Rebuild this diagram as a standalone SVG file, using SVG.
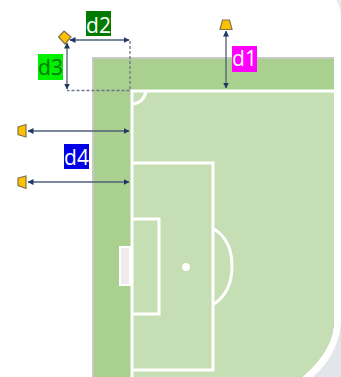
<svg xmlns="http://www.w3.org/2000/svg" width="341" height="377" viewBox="0 0 341 377">
<style>
.ln{fill:none;stroke:#fff;stroke-width:3}
.cam{fill:#ffc000;stroke:#7f7350;stroke-width:1.2}
.dim{fill:none;stroke:#4f5f78;stroke-width:1.3;marker-start:url(#a);marker-end:url(#a)}
.dash{fill:none;stroke:#6a7486;stroke-width:1.3;stroke-dasharray:3 2}
.lb{font-family:"Open Sans",sans-serif;font-size:21px;text-anchor:middle}
</style>
<defs>
<marker id="a" viewBox="0 0 6 6" refX="5.500" refY="3" markerWidth="6" markerHeight="6" orient="auto-start-reverse" markerUnits="userSpaceOnUse"><path d="M0 0L6 3L0 6Z" fill="#1f3864"/></marker>
</defs>
<rect width="341" height="377" fill="#fff"/>
<path d="M341 323Q338 355 313 377H341Z" fill="#e2e5ea"/>
<path d="M336 0Q340 6 341 16V0Z" fill="#e8eaee"/>
<g id="pitch">
<path d="M92 57H334V320Q334 350 302 377H92Z" fill="#c8c8c4"/>
<path d="M94 59H334V320Q334 350 302 377H94Z" fill="#a9d08e"/>
<path d="M132 92H334V320Q334 350 302 377H132Z" fill="#c6deb3"/>
<path class="ln" d="M132 377V91H334"/>
<path class="ln" d="M132 163H213V370H132"/>
<path class="ln" d="M132 219H159V314H132"/>
<path class="ln" d="M214 229Q232 240 232 266Q232 292 214 304"/>
<path class="ln" d="M133 104Q143 103 146 92" stroke-width="2"/>
<circle cx="186" cy="267" r="4" fill="#fff"/>
</g>
<g id="goal">
<rect x="119" y="246" width="12" height="40" fill="#fff"/>
<path d="M122 248V284M124 248V284M126 248V284M128 248V284" stroke="#e0d8dc" stroke-width="1" fill="none"/>
</g>
<g id="connectors">
<path class="dash" d="M130 41V90.500H67"/>
<path class="dim" d="M226 31V88"/>
<path class="dim" d="M70 40H129"/>
<path class="dim" d="M67 43V89"/>
<path class="dim" d="M28 131H129"/>
<path class="dim" d="M28 182H129"/>
</g>
<g id="cam1"><path class="cam" d="M222.500 20H229.500L232 29.500H220Z"/></g>
<g id="cam2"><path class="cam" d="M64 31L71 37L65 44L58.500 37Z"/></g>
<g id="cam3"><path class="cam" d="M18 127L26 124.500V137L18 134.500Z"/></g>
<g id="cam4"><path class="cam" d="M18 178L26 176V188.500L18 185.500Z"/></g>
<g id="d1"><rect x="232" y="46" width="25" height="26" fill="#ff00ff"/><text class="lb" x="244.500" y="66" fill="#fff">d1</text></g>
<g id="d2"><rect x="86" y="11" width="25" height="25" fill="#007a00"/><text class="lb" x="98.500" y="33" fill="#fff">d2</text></g>
<g id="d3"><rect x="38" y="54" width="25" height="26" fill="#00f000"/><text class="lb" x="50.500" y="75" fill="#007a00">d3</text></g>
<g id="d4"><rect x="64" y="144" width="25" height="25" fill="#0000e6"/><text class="lb" x="76.500" y="165" fill="#fff">d4</text></g>
</svg>
